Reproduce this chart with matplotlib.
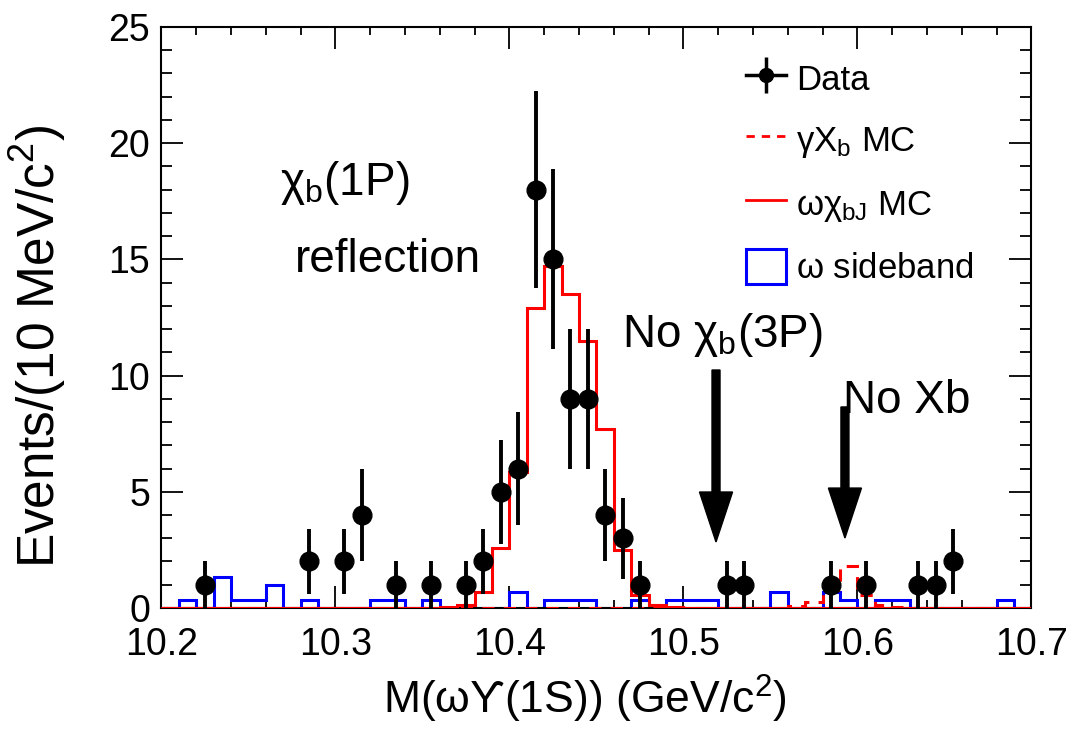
import numpy as np
import matplotlib
matplotlib.use("Agg")
import matplotlib.pyplot as plt
from matplotlib.lines import Line2D
from matplotlib.patches import Patch

plt.rcParams['font.family'] = ['Liberation Sans', 'DejaVu Sans']
plt.rcParams['mathtext.fontset'] = 'custom'
plt.rcParams['mathtext.rm'] = 'Liberation Sans'
plt.rcParams['mathtext.it'] = 'Liberation Sans'

# 10 MeV bins from 10.20 to 10.70 GeV
bin_lo, bin_hi, bin_w = 10.20, 10.70, 0.01

# data (bin centres, counts)
data_x = [10.225, 10.285, 10.305, 10.315, 10.335, 10.355, 10.375, 10.385,
          10.395, 10.405, 10.415, 10.425, 10.435, 10.445, 10.455, 10.465,
          10.475, 10.525, 10.535, 10.585, 10.605, 10.635, 10.645, 10.655]
data_n = [1, 2, 2, 4, 1, 1, 1, 2, 5, 6, 18, 15, 9, 9, 4, 3, 1, 1, 1, 1, 1,
          1, 1, 2]

# omega chi_bJ MC (bin low edge, height)
wchi_lo = [10.36, 10.37, 10.38, 10.39, 10.40, 10.41, 10.42, 10.43, 10.44,
           10.45, 10.46, 10.47, 10.48, 10.49]
wchi_h = [0.05, 0.12, 0.7, 2.6, 5.85, 12.9, 14.7, 13.5, 11.5, 7.7, 2.5,
          0.56, 0.13, 0.04]

# gamma X_b MC
gxb_lo = [10.56, 10.57, 10.58, 10.59, 10.60, 10.61, 10.62]
gxb_h = [0.1, 0.27, 0.77, 1.8, 0.56, 0.13, 0.04]

# omega sideband
sb_lo = [10.21, 10.23, 10.24, 10.25, 10.26, 10.28, 10.32, 10.33, 10.35,
         10.40, 10.42, 10.43, 10.44, 10.47, 10.49, 10.50, 10.51, 10.55,
         10.58, 10.59, 10.61, 10.62, 10.68]
sb_h = [0.33, 1.33, 0.33, 0.33, 1.0, 0.33, 0.33, 0.33, 0.33,
        0.67, 0.33, 0.33, 0.33, 0.33, 0.33, 0.33, 0.33, 0.67,
        0.67, 0.33, 0.33, 0.33, 0.33]


def fill_bins(lows, heights):
    edges = np.round(np.arange(bin_lo, bin_hi + bin_w / 2, bin_w), 3)
    vals = np.zeros(len(edges) - 1)
    for lo, h in zip(lows, heights):
        vals[int(round((lo - bin_lo) / bin_w))] = h
    return edges, vals


fig = plt.figure(figsize=(10.70, 7.34), dpi=100)
ax = fig.add_axes([0.1509, 0.1717, 0.8131, 0.7915])

edges, sb_vals = fill_bins(sb_lo, sb_h)
ax.stairs(sb_vals, edges, color='#0000ff', lw=2.2, zorder=2)
edges, gxb_vals = fill_bins(gxb_lo, gxb_h)
ax.stairs(gxb_vals, edges, color='#ff0000', lw=2.2, ls=(0, (4, 3)), zorder=3)
edges, wchi_vals = fill_bins(wchi_lo, wchi_h)
ax.stairs(wchi_vals, edges, color='#ff0000', lw=2.2, zorder=3)

ax.errorbar(data_x, data_n, yerr=np.sqrt(data_n), fmt='o', color='black',
            ms=13.5, elinewidth=2.8, capsize=0, zorder=5)

ax.set_xlim(bin_lo, bin_hi)
ax.set_ylim(0, 25)
ax.set_xticks([10.2, 10.3, 10.4, 10.5, 10.6, 10.7])
ax.set_xticklabels(['10.2', '10.3', '10.4', '10.5', '10.6', '10.7'])
ax.set_xticks(np.arange(10.2, 10.7001, 0.02), minor=True)
ax.set_yticks([0, 5, 10, 15, 20, 25])
ax.set_yticks(np.arange(0, 25.01, 1), minor=True)
ax.tick_params(which='both', direction='in', top=True, right=True,
               width=1.3, labelsize=27)
ax.tick_params(axis='y', which='major', length=16, pad=8)
ax.tick_params(axis='y', which='minor', length=8)
ax.tick_params(axis='x', which='major', length=16, pad=14)
ax.tick_params(axis='x', which='minor', length=6)
for sp in ax.spines.values():
    sp.set_linewidth(1.5)

ax.set_xlabel(r'M($\omega$ϒ(1S)) (GeV/c$^2$)', fontsize=32)
ax.set_ylabel(r'Events/(10 MeV/c$^2$)', fontsize=37)
ax.xaxis.set_label_coords(0.487, -0.112)
ax.yaxis.set_label_coords(-0.108, 0.45)

# annotations
ax.text(10.268, 17.77, r'χ$_{\rm b}$(1P)', fontsize=33)
ax.text(10.2767, 14.46, 'reflection', fontsize=33)
ax.text(10.4647, 11.23, r'No χ$_{\rm b}$(3P)', fontsize=33)
ax.text(10.5917, 8.39, 'No Xb', fontsize=33)

arrows = [(10.5187, 10.24, 2.84), (10.5928, 8.65, 3.01)]
for ax_x, y_top, y_tip in arrows:
    ax.arrow(ax_x, y_top, 0, y_tip - y_top, width=0.0046, head_width=0.019,
             head_length=2.15, length_includes_head=True, color='black',
             zorder=6)

handles = [
    (Line2D([], [], color='black', lw=2.5),
     Line2D([], [], marker='|', ms=26, mew=2.5, color='black', ls='none'),
     Line2D([], [], marker='o', ms=10, color='black', ls='none')),
    Line2D([], [], color='#ff0000', lw=2, ls=(0, (3, 2.5))),
    Line2D([], [], color='#ff0000', lw=2),
    Patch(facecolor='none', edgecolor='#0000ff', lw=2.2),
]
labels = [r'Data', r'$\gamma$X$_{\rm b}$ MC', r'$\omega\chi_{\rm bJ}$ MC',
          r'$\omega$ sideband']
ax.legend(handles, labels, loc='upper right', bbox_to_anchor=(0.962, 0.985),
          frameon=False, fontsize=25, handlelength=1.15, handleheight=1.2,
          handletextpad=0.3, labelspacing=0.72, borderaxespad=0.3)

fig.savefig('out.png', dpi=100)
